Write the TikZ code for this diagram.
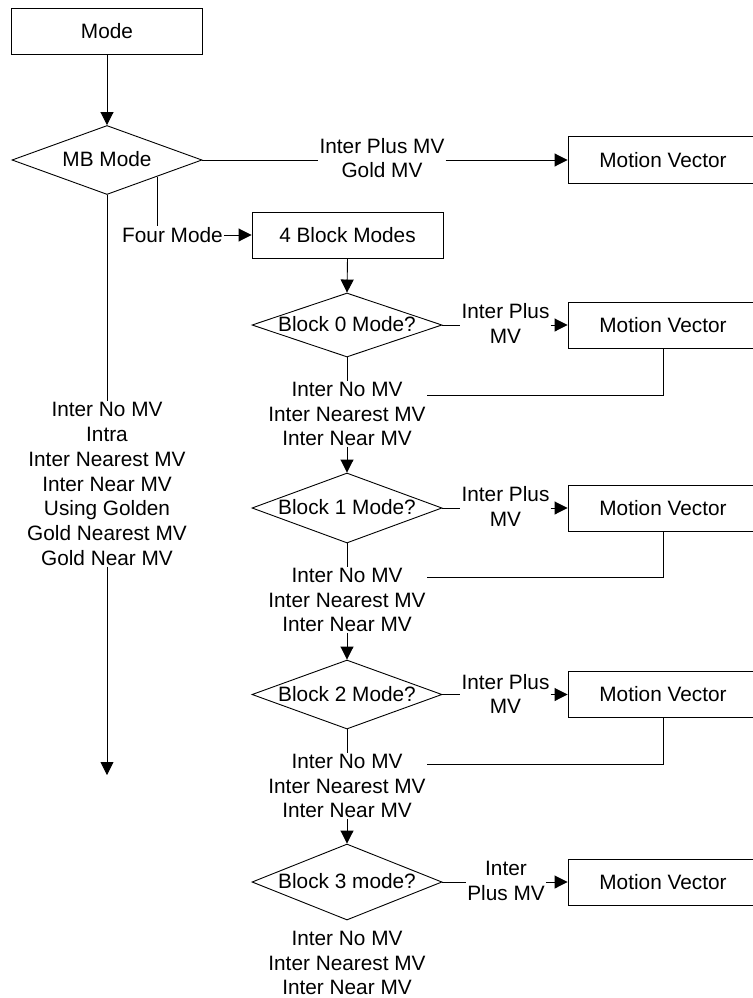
\documentclass[tikz,border=0pt]{standalone}
\usepackage{fontspec}
\setmainfont{Liberation Sans}
\usetikzlibrary{shapes.geometric,arrows.meta,calc}
\begin{document}
\begin{tikzpicture}[x=1pt,y=-1pt,
  every node/.style={font=\fontsize{20.8}{24.8}\selectfont, inner sep=1pt},
  box/.style={draw, line width=0.9pt, minimum width=191pt, minimum height=46pt, inner sep=0pt},
  dia/.style={draw, diamond, line width=0.9pt, minimum width=190pt, inner sep=0pt},
  txt/.style={align=center},
  link/.style={line width=0.9pt},
  flow/.style={line width=0.9pt, -{Triangle[length=13pt,width=13pt]}},
]
\useasboundingbox (0,0) rectangle (752,998);

% top level: macroblock mode
\node[box] (mode) at (107,31) {Mode};
\node[dia, minimum height=69pt] (mb) at (107,160) {};
\node (mbt) at (107,159) {MB Mode};
\node[box, minimum width=190pt, minimum height=47pt] (mvt) at (663,160) {Motion Vector};
\node[txt] (lt) at (382,158) {Inter Plus MV\\Gold MV};
\node (fm) at (172.5,235) {Four Mode};
\node[box] (blk) at (347.5,235) {4 Block Modes};
\node[txt] (lv) at (107,484) {Inter No MV\\Intra\\Inter Nearest MV\\Inter Near MV\\Using Golden\\Gold Nearest MV\\Gold Near MV};
\coordinate (lvend) at (107,775);

% block 0
\node[dia, minimum height=64pt] (b0) at (347,325) {};
\node (b0t) at (347,324) {Block 0 Mode?};
\node[txt] (l0) at (505.5,323.5) {Inter Plus\\MV};
\node[box, minimum width=190pt] (mv0) at (663,325) {Motion Vector};
\node[txt] (t0) at (347,414) {Inter No MV\\Inter Nearest MV\\Inter Near MV};

% block 1
\node[dia, minimum height=70pt] (b1) at (347,508) {};
\node (b1t) at (347,507) {Block 1 Mode?};
\node[txt] (l1) at (505.5,506.5) {Inter Plus\\MV};
\node[box, minimum width=190pt] (mv1) at (663,508) {Motion Vector};
\node[txt] (t1) at (347,600) {Inter No MV\\Inter Nearest MV\\Inter Near MV};

% block 2
\node[dia, minimum height=69pt] (b2) at (347,694.5) {};
\node (b2t) at (347,694) {Block 2 Mode?};
\node[txt] (l2) at (505.5,694) {Inter Plus\\MV};
\node[box, minimum width=190pt] (mv2) at (663,694.5) {Motion Vector};
\node[txt] (t2) at (347,786) {Inter No MV\\Inter Nearest MV\\Inter Near MV};

% block 3
\node[dia, minimum height=76pt] (b3) at (347,882) {};
\node (b3t) at (347,881) {Block 3 mode?};
\node[txt] (l3) at (506,881) {Inter\\Plus MV};
\node[box, minimum width=190pt] (mv3) at (663,882) {Motion Vector};
\node[txt] (t3) at (347,963) {Inter No MV\\Inter Nearest MV\\Inter Near MV};

% connectors, top level
\draw[flow] (mode.south) -- (mb.north);
\draw[link] (mb.east) -- (mb.east -| lt.west);
\draw[flow] (mb.east -| lt.east) -- (mvt.west);
\coordinate (fmtap) at ($(mb.east)!0.474!(mb.south)$);
\draw[link] (fmtap) -- (fmtap |- fm.north);
\draw[flow] (fm.east) -- (blk.west);
\draw[link] (mb.south) -- (lv.north);
\draw[flow] (lv.south) -- (lvend);
\draw[flow] (blk.south) -- (b0.north);

% connectors, block 0
\draw[link] (b0.east) -- (b0.east -| l0.west);
\draw[flow] (b0.east -| l0.east) -- (mv0.west);
\draw[link] (b0.south) -- (t0.north);
\draw[flow] (t0.south) -- (b1.north);
\draw[link] (mv0.south) |- ($(t0.east)+(0,-19)$);

% connectors, block 1
\draw[link] (b1.east) -- (b1.east -| l1.west);
\draw[flow] (b1.east -| l1.east) -- (mv1.west);
\draw[link] (b1.south) -- (t1.north);
\draw[flow] (t1.south) -- (b2.north);
\draw[link] (mv1.south) |- ($(t1.east)+(0,-23)$);

% connectors, block 2
\draw[link] (b2.east) -- (b2.east -| l2.west);
\draw[flow] (b2.east -| l2.east) -- (mv2.west);
\draw[link] (b2.south) -- (t2.north);
\draw[flow] (t2.south) -- (b3.north);
\draw[link] (mv2.south) |- ($(t2.east)+(0,-22)$);

% connectors, block 3
\draw[link] (b3.east) -- (b3.east -| l3.west);
\draw[flow] (b3.east -| l3.east) -- (mv3.west);
\end{tikzpicture}
\end{document}
